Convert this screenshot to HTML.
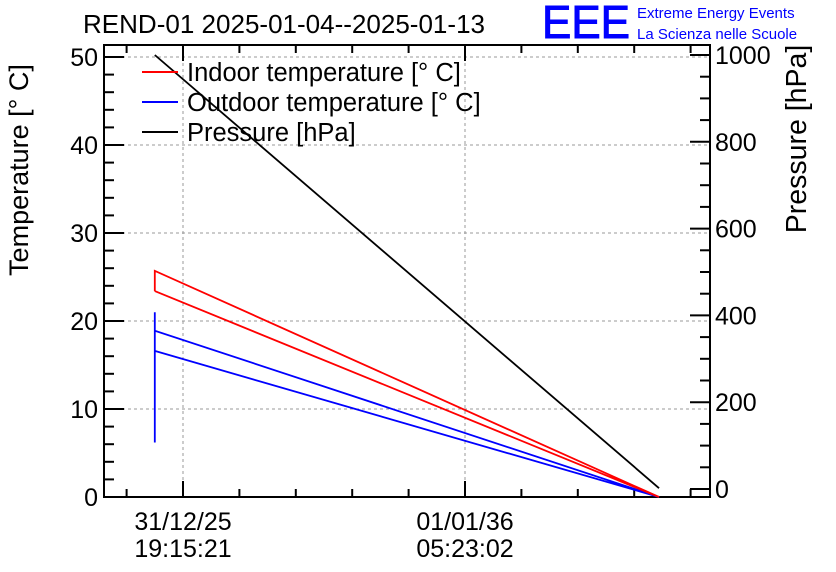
<!DOCTYPE html>
<html><head><meta charset="utf-8"><style>
body{margin:0;background:#fff}
svg{display:block;font-family:"Liberation Sans",sans-serif}
</style></head><body>
<svg id="c" width="836" height="572" xmlns="http://www.w3.org/2000/svg">
<text x="83" y="33" font-size="26" textLength="402" lengthAdjust="spacingAndGlyphs">REND-01 2025-01-04--2025-01-13</text>
<text x="542" y="38" font-size="46" fill="#00f" stroke="#00f" stroke-width="1" textLength="88" lengthAdjust="spacingAndGlyphs">EEE</text>
<text x="637" y="18" font-size="15" fill="#00f">Extreme Energy Events</text>
<text x="637" y="39" font-size="15" fill="#00f">La Scienza nelle Scuole</text>
<text transform="translate(28,170) rotate(-90)" text-anchor="middle" font-size="27">Temperature [° C]</text>
<text transform="translate(806,139) rotate(-90)" text-anchor="middle" font-size="28.5">Pressure [hPa]</text>
<g id="grid"></g><g id="axes"></g><g id="marks"></g>
<g>
<line x1="142" y1="72" x2="178" y2="72" stroke="#f00" stroke-width="2"/>
<text x="187" y="81" font-size="25.5">Indoor temperature [° C]</text>
<line x1="142" y1="102" x2="178" y2="102" stroke="#00f" stroke-width="2"/>
<text x="187" y="111" font-size="25.5">Outdoor temperature [° C]</text>
<line x1="142" y1="132" x2="178" y2="132" stroke="#000" stroke-width="2"/>
<text x="187" y="141" font-size="25.5">Pressure [hPa]</text>
</g>
</svg>
<script>
const xTickVals=[0,1];
const xTickLine1=["31/12/25","01/01/36"];
const xTickLine2=["19:15:21","05:23:02"];
const tempTicks=[0,10,20,30,40,50];
const presTicks=[0,200,400,600,800,1000];
const indoorT=[-0.1,-0.1,1.688,-0.1];
const indoorV=[23.4,25.7,0,23.4];
const outdoorT=[-0.1,-0.1,-0.1,1.688,-0.1];
const outdoorV=[6.2,21,18.9,0,16.6];
const pressureT=[-0.1,1.688];
const pressureV=[1000,2];
const L=104,R=710,T=45,B=497;
const xs=t=>183+t*282;
const yT=v=>497-v*8.8;
const yP=v=>489-v*0.434;
const NS="http://www.w3.org/2000/svg";
function mk(p,tag,at){const e=document.createElementNS(NS,tag);for(const k in at)e.setAttribute(k,at[k]);document.getElementById(p).appendChild(e);return e;}
tempTicks.forEach(v=>{const e=mk('grid','line',{x1:L,x2:R,y1:yT(v),y2:yT(v),stroke:'#999','stroke-dasharray':'3,3'});

});
xTickVals.forEach(v=>{const e=mk('grid','line',{x1:xs(v),x2:xs(v),y1:T,y2:B,stroke:'#999','stroke-dasharray':'3,3'});

});
const f=mk('axes','rect',{x:L,y:T,width:R-L,height:B-T,fill:'none',stroke:'#000','stroke-width':2});


for(let v=0;v<=50;v+=2){const len=v%10===0?20:10;mk('axes','line',{x1:L,x2:L+len,y1:yT(v),y2:yT(v),stroke:'#000','stroke-width':2});}
tempTicks.forEach(v=>{const e=mk('axes','text',{x:L-6,y:yT(v)+9,'text-anchor':'end','font-size':25});e.textContent=v;

});
for(let v=0;v<=1000;v+=50){const len=v%200===0?20:10;mk('axes','line',{x1:R-len,x2:R,y1:yP(v),y2:yP(v),stroke:'#000','stroke-width':2});}
presTicks.forEach(v=>{const e=mk('axes','text',{x:R+5,y:yP(v)+9,'font-size':25});e.textContent=v;

});
for(let i=-1;i<=9;i++){const t=i/5;const x=xs(t);if(x<L||x>R)continue;const len=i%5===0?16:8;
mk('axes','line',{x1:x,x2:x,y1:B,y2:B-len,stroke:'#000','stroke-width':2});
mk('axes','line',{x1:x,x2:x,y1:T,y2:T+len,stroke:'#000','stroke-width':2});}
xTickVals.forEach((v,i)=>{const e=mk('axes','text',{x:xs(v),y:530,'text-anchor':'middle','font-size':25});e.textContent=xTickLine1[i];


const e2=mk('axes','text',{x:xs(v),y:557,'text-anchor':'middle','font-size':25});e2.textContent=xTickLine2[i];

});
function series(ts,vs,yf,col,name){const p=ts.map((t,i)=>xs(t)+','+yf(vs[i])).join(' ');
const e=mk('marks','polyline',{points:p,fill:'none',stroke:col,'stroke-width':1.8});

}
series(outdoorT,outdoorV,yT,'#00f','outdoor-temperature-line');
series(indoorT,indoorV,yT,'#f00','indoor-temperature-line');
series(pressureT,pressureV,yP,'#000','pressure-line');
</script>
</body></html>
